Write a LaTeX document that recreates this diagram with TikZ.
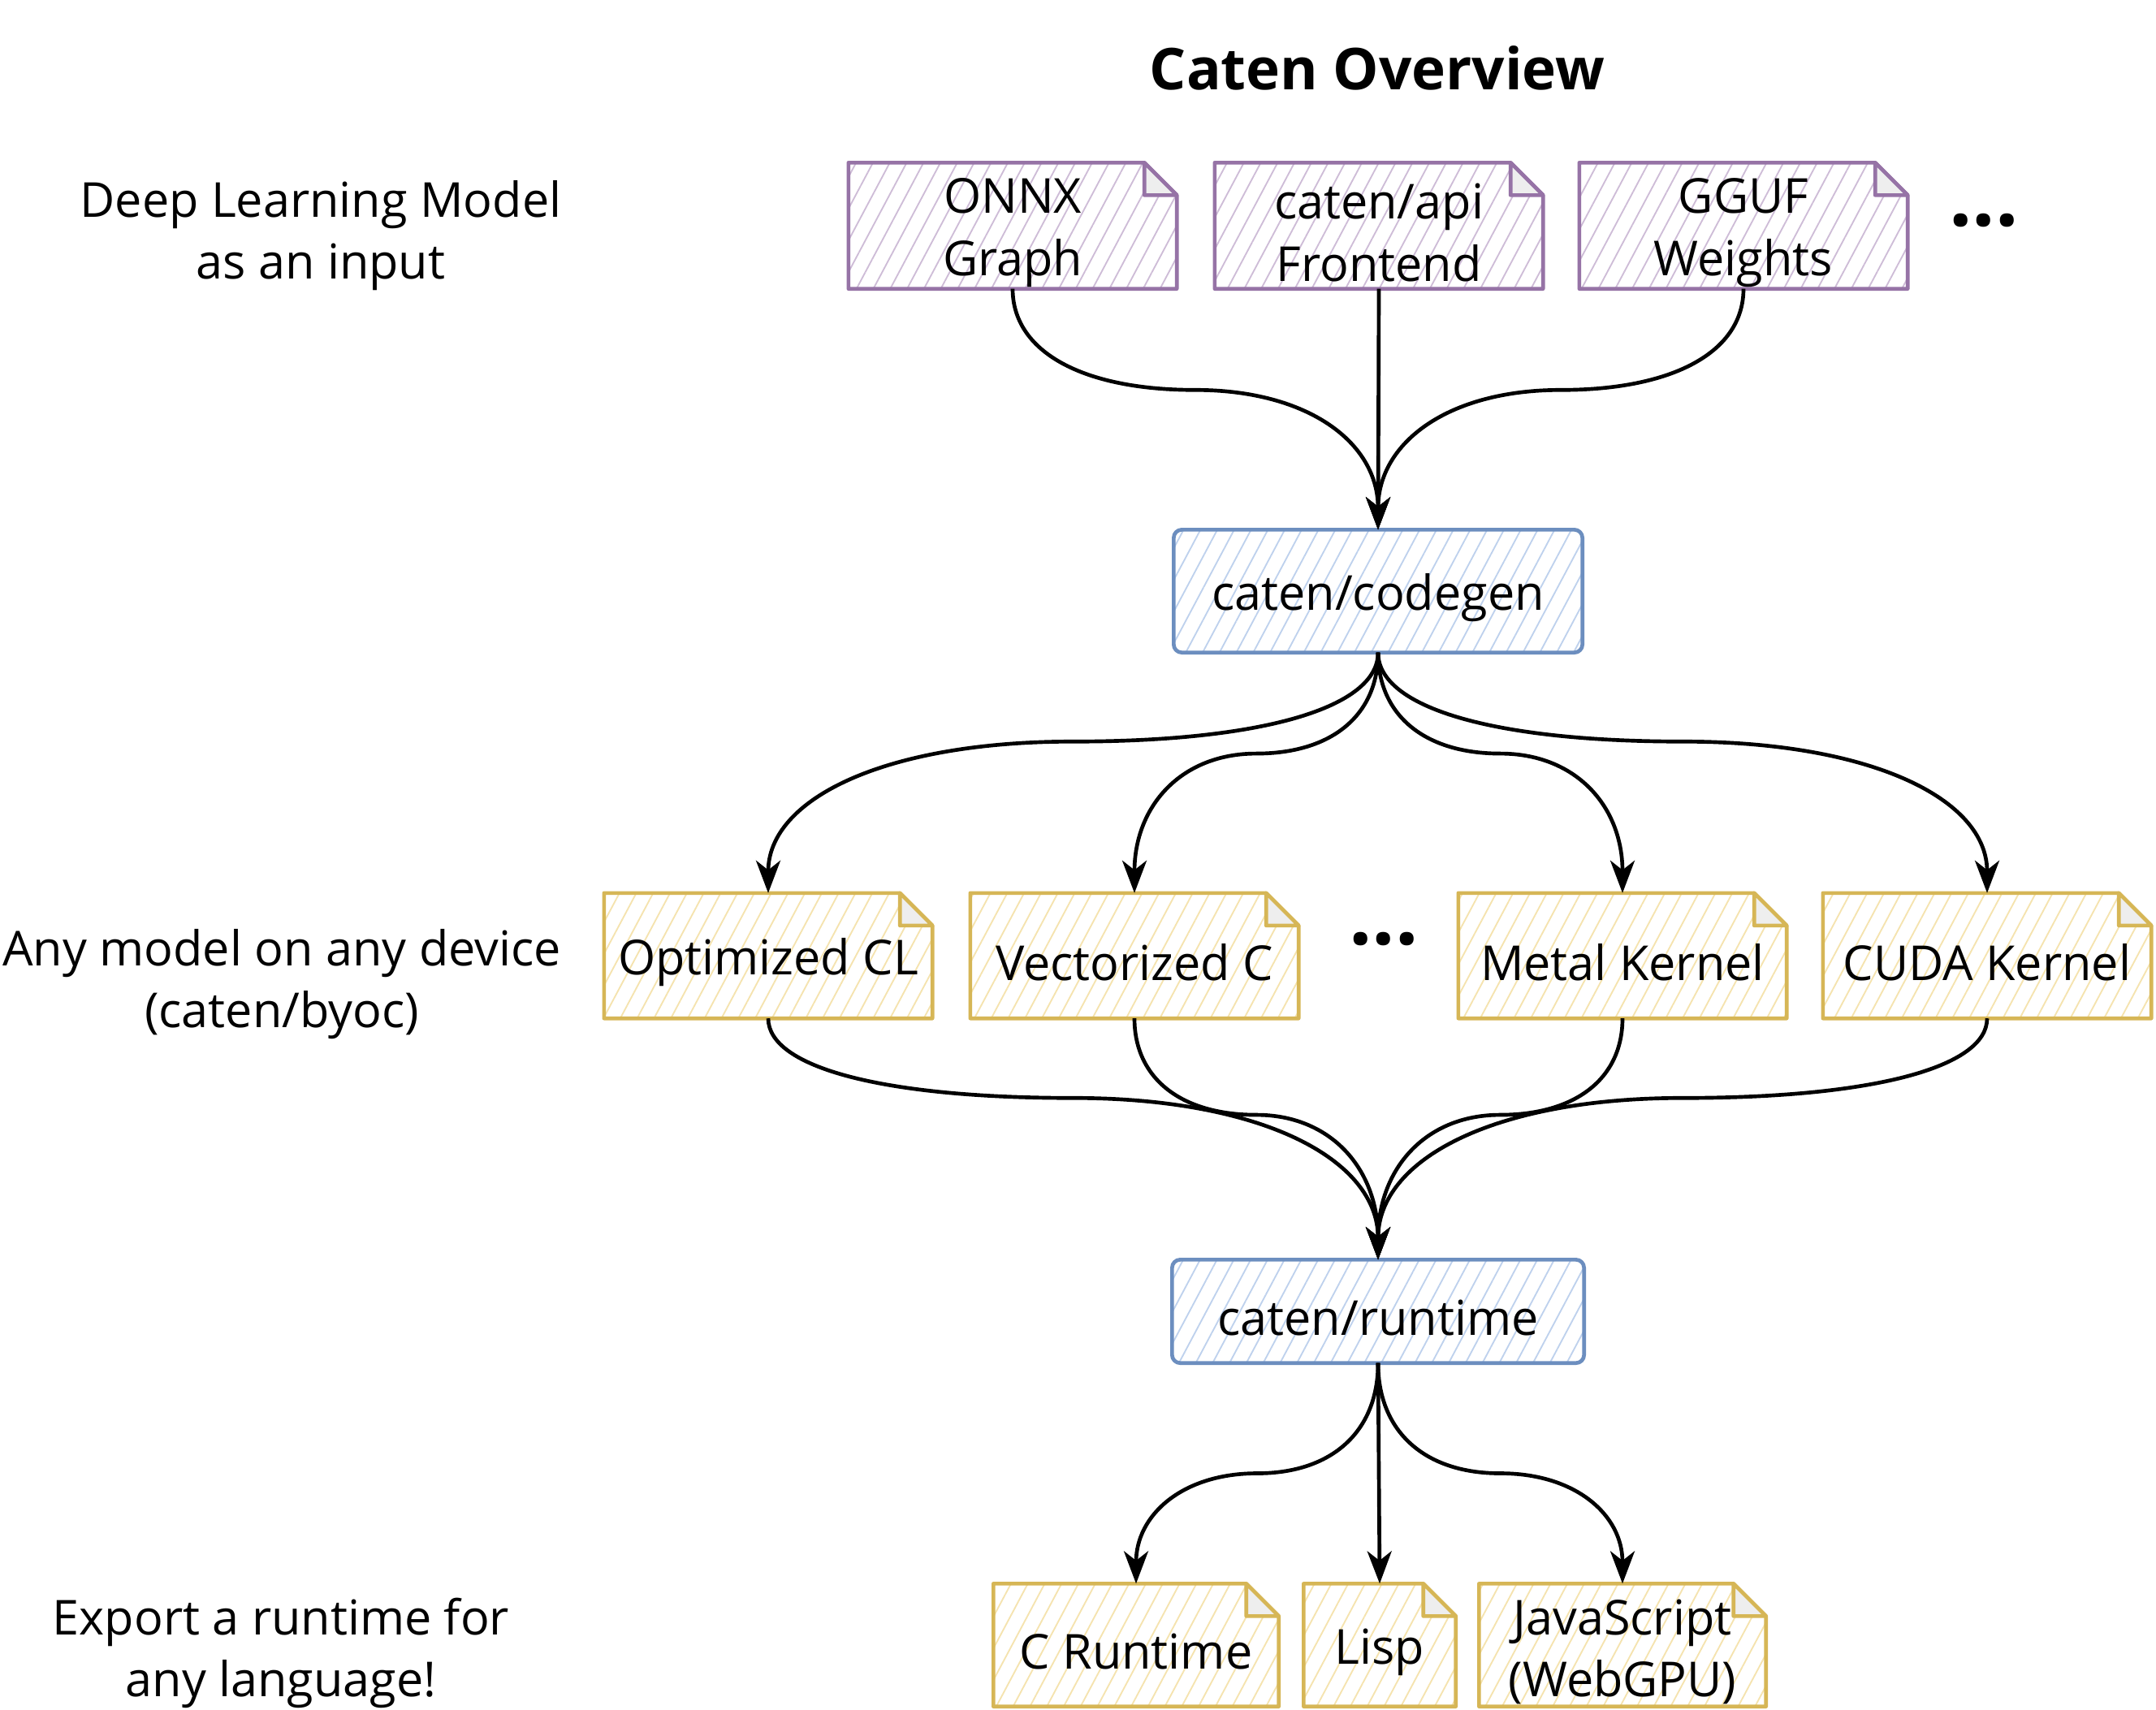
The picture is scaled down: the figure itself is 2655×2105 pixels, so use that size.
\documentclass[tikz,border=0pt]{standalone}
\usepackage{fontspec}
\setmainfont{Open Sans}
\usetikzlibrary{arrows.meta,calc,patterns.meta}
\definecolor{pstroke}{HTML}{9673A6}
\definecolor{pfill}{HTML}{E1D5E7}
\definecolor{bstroke}{HTML}{6C8EBF}
\definecolor{bfill}{HTML}{DAE8FC}
\definecolor{ystroke}{HTML}{D6B656}
\definecolor{yfill}{HTML}{FFF2CC}
\definecolor{foldgray}{HTML}{EEEEEE}
\tikzset{
  lbl/.style={font=\fontsize{17.8}{23}\selectfont, align=center, inner sep=0pt},
  boxtext/.style={font=\fontsize{17.8}{23}\selectfont, align=center, inner sep=0pt},
  boxshape/.style={draw=none, inner sep=0pt},
  hatch/.style={pattern={Lines[angle=62,distance=5.5pt,line width=0.55pt]}, pattern color=#1},
  arr/.style={line width=1.4pt, -{Stealth[length=12pt,width=9pt,inset=3.5pt]}},
  dotstyle/.style={font=\fontsize{30}{30}\bfseries\selectfont, inner sep=0pt},
  outline/.style={draw=#1, line width=1.4pt, line join=round},
}
% note-shaped box: name, position, width, height, colour prefix, text
\newcommand\notebox[6]{%
  \node[boxshape, minimum width=#3, minimum height=#4] (#1) at #2 {};
  \draw[outline=#5stroke, hatch=#5fill!75!#5stroke]
    (#1.south west) -- (#1.north west) -- ([xshift=-12pt]#1.north east)
    -- ([yshift=-12pt]#1.north east) -- (#1.south east) -- cycle;
  \draw[outline=#5stroke, fill=foldgray]
    ([xshift=-12pt]#1.north east) -- ([xshift=-12pt,yshift=-12pt]#1.north east)
    -- ([yshift=-12pt]#1.north east) -- cycle;
  \node[boxtext] (#1-text) at ([yshift=-2.5pt]#1.center) {#6};
}
% rounded blue box: name, position, width, height, text
\newcommand\roundbox[5]{%
  \node[boxshape, minimum width=#3, minimum height=#4] (#1) at #2 {};
  \draw[outline=bstroke, hatch=bfill!75!bstroke, rounded corners=3pt]
    (#1.south west) rectangle (#1.north east);
  \node[boxtext] (#1-text) at ([yshift=-2.5pt]#1.center) {#5};
}
% curved connector: source, target, fraction of the height where it turns
\newcommand\curv[3]{%
  \coordinate (#1-#2-x) at ($(#1.south)!0.5!(#2.north)$);
  \coordinate (#1-#2-y) at ($(#1.south)!#3!(#2.north)$);
  \coordinate (#1-#2-m) at (#1-#2-x |- #1-#2-y);
  \coordinate (#1-#2-c) at (#1.south |- #1-#2-m);
  \coordinate (#1-#2-d) at (#2.north |- #1-#2-m);
  \draw[arr] (#1.south)
    .. controls ($(#1.south)!0.62!(#1-#2-c)$) and ($(#1-#2-m)!0.62!(#1-#2-c)$) .. (#1-#2-m)
    .. controls ($(#1-#2-m)!0.62!(#1-#2-d)$) and ($(#2.north)!0.62!(#1-#2-d)$) .. (#2.north);
}
\begin{document}
\begin{tikzpicture}[x=0.3pt,y=-0.3pt]
\fill[white] (0,0) rectangle (2655,2105);
\useasboundingbox (0,0) rectangle (2655,2105);

% title and side labels
\node[font=\fontsize{21.3}{26}\bfseries\selectfont, inner sep=0pt] (title) at (1696,84) {Caten Overview};
\node[lbl] (inA) at (395,290) {Deep Learning Model\\as an input};
\node[lbl] (inB) at (347,1212) {Any model on any device\\(caten/byoc)};
\node[lbl] (inC) at (346,2036) {Export a runtime for\\any language!};

% row 1
\notebox{onnx}{(1247,278)}{120.9pt}{46.2pt}{p}{ONNX\\Graph}
\notebox{api}{(1698,278)}{120.9pt}{46.2pt}{p}{caten/api\\Frontend}
\notebox{gguf}{(2147,278)}{120.9pt}{46.2pt}{p}{GGUF\\Weights}
\node[dotstyle] (dotsA) at (2443,272) {...};

% codegen
\roundbox{codegen}{(1697,728)}{150.6pt}{45pt}{caten/codegen}

% row 2
\notebox{ocl}{(946,1177)}{120.9pt}{45.9pt}{y}{Optimized CL}
\notebox{vc}{(1397,1177)}{120.9pt}{45.9pt}{y}{Vectorized C}
\notebox{metal}{(1998,1177)}{120.9pt}{45.9pt}{y}{Metal Kernel}
\notebox{cuda}{(2447,1177)}{120.9pt}{45.9pt}{y}{CUDA Kernel}
\node[dotstyle] (dotsB) at (1704,1156) {...};

% runtime
\roundbox{runtime}{(1697,1615)}{151.8pt}{37.8pt}{caten/runtime}

% bottom row
\notebox{crt}{(1399,2026)}{105pt}{45pt}{y}{C Runtime}
\notebox{lisp}{(1699,2026)}{55.8pt}{45pt}{y}{Lisp}
\notebox{js}{(1998,2026)}{105.6pt}{45pt}{y}{JavaScript\\(WebGPU)}

% connectors
\curv{onnx}{codegen}{0.42}
\draw[arr] (api.south) -- (codegen.north);
\curv{gguf}{codegen}{0.42}

\curv{codegen}{ocl}{0.37}
\curv{codegen}{vc}{0.42}
\curv{codegen}{metal}{0.42}
\curv{codegen}{cuda}{0.37}

\curv{ocl}{runtime}{0.33}
\curv{vc}{runtime}{0.4}
\curv{metal}{runtime}{0.4}
\curv{cuda}{runtime}{0.33}

\curv{runtime}{crt}{0.5}
\draw[arr] (runtime.south) -- (lisp.north);
\curv{runtime}{js}{0.5}
\end{tikzpicture}
\end{document}
